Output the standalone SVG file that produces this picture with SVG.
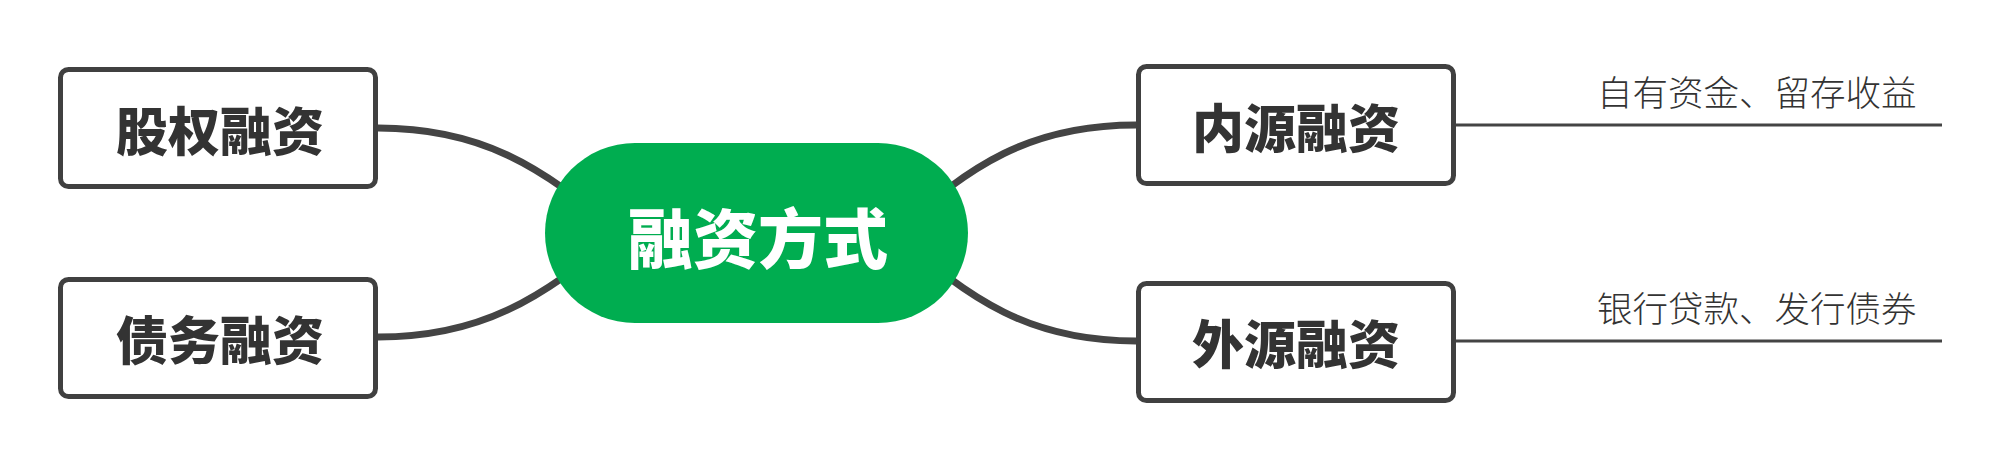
<svg xmlns="http://www.w3.org/2000/svg" width="2000" height="461" viewBox="0 0 2000 461">
<style>
.box{fill:#fff;stroke:#404040;stroke-width:5}
.lbl{font-family:"Noto Sans CJK SC","Noto Sans",sans-serif;font-weight:900;font-size:52px;fill:#333;text-anchor:middle;dominant-baseline:central}
.conn{fill:none;stroke:#444;stroke-width:7}
.thin{fill:none;stroke:#444;stroke-width:3}
.note{font-family:"Noto Sans CJK SC","Noto Sans",sans-serif;font-weight:300;font-size:35.5px;fill:#333}
</style>
<rect width="2000" height="461" fill="#fff"/>
<g id="connectors">
<path class="conn" d="M378,128 C480,128 540,165 620,233"/>
<path class="conn" d="M378,337 C480,337 540,300 620,233"/>
<path class="conn" d="M1136,125 C1030,125 970,165 895,233"/>
<path class="conn" d="M1136,341 C1030,341 970,300 895,233"/>
<path class="thin" d="M1455,125 H1942"/>
<path class="thin" d="M1455,341 H1942"/>
</g>
<g id="root">
<rect x="545" y="143" width="423" height="180" rx="90" ry="90" fill="#00AD50"/>
<text class="lbl" x="758" y="235" style="font-size:65px;fill:#fff">融资方式</text>
</g>
<g id="node-equity">
<rect class="box" x="60.5" y="69.5" width="315" height="117" rx="8"/>
<text class="lbl" x="220" y="128">股权融资</text>
</g>
<g id="node-debt">
<rect class="box" x="60.5" y="279.5" width="315" height="117" rx="8"/>
<text class="lbl" x="220" y="337">债务融资</text>
</g>
<g id="node-internal">
<rect class="box" x="1138.5" y="66.5" width="315" height="117" rx="8"/>
<text class="lbl" x="1296" y="125">内源融资</text>
</g>
<g id="node-external">
<rect class="box" x="1138.5" y="283.5" width="315" height="117" rx="8"/>
<text class="lbl" x="1296" y="341">外源融资</text>
</g>
<g id="note-internal">
<text class="note" x="1597" y="106">自有资金、留存收益</text>
</g>
<g id="note-external">
<text class="note" x="1597" y="322">银行贷款、发行债券</text>
</g>
</svg>
